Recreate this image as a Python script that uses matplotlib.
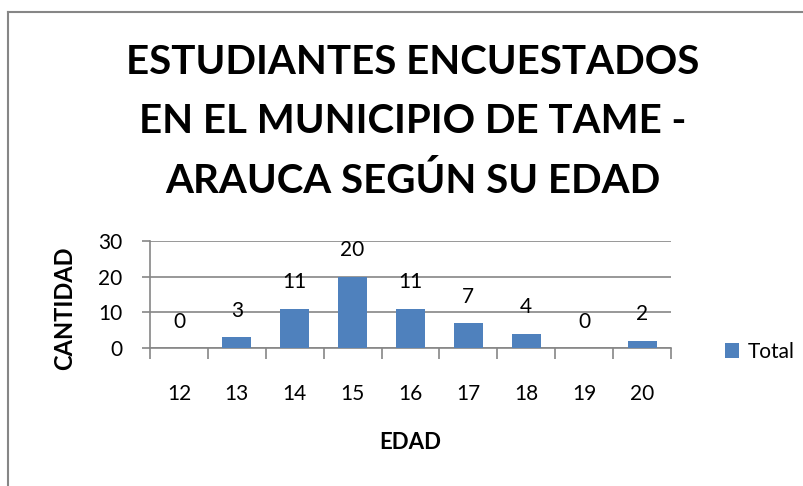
import matplotlib.pyplot as plt
import numpy as np

edades = ['12', '13', '14', '15', '16', '17', '18', '19', '20']
cantidad = [0, 3, 11, 20, 11, 7, 4, 0, 2]
y_ticks = [0, 10, 20, 30]

titulo = 'ESTUDIANTES ENCUESTADOS\nEN EL MUNICIPIO DE TAME -\nARAUCA SEGÚN SU EDAD'

plt.rcParams['font.family'] = ['Lato', 'DejaVu Sans']
gris = '#868686'
azul = '#4F81BD'

fig = plt.figure(figsize=(8.04, 4.86), dpi=100)

# borde del grafico (solo se ven izquierda y arriba)
fig.add_artist(plt.Line2D([0.0105, 0.0105], [0, 1 - 12 / 486], color=gris, lw=1.5,
                          transform=fig.transFigure))
fig.add_artist(plt.Line2D([0.0105, 1], [1 - 12 / 486, 1 - 12 / 486], color=gris, lw=1.5,
                          transform=fig.transFigure))

ax = fig.add_axes([150 / 804, 1 - 348 / 486, 521 / 804, 107 / 486])
x = np.arange(len(edades))
bars = ax.bar(x, cantidad, width=0.5, color=azul, label='Total', zorder=3)

for xi, v in zip(x, cantidad):
    ax.annotate(str(v), (xi, v), xytext=(0, 19), textcoords='offset points',
                ha='center', va='center', fontsize=15, zorder=4)

ax.set_xlim(-0.5, len(edades) - 0.5)
ax.set_ylim(0, 30)
ax.set_yticks(y_ticks)
ax.yaxis.grid(True, color=gris, lw=1.2, zorder=1)
ax.set_xticks(np.arange(len(edades) + 1) - 0.5)
ax.set_xticklabels([])
ax.set_xticks(x, minor=True)
ax.set_xticklabels(edades, minor=True)
ax.tick_params(axis='x', which='major', length=8, color=gris, width=1.2)
ax.tick_params(axis='x', which='minor', length=0, pad=26, labelsize=15)
ax.tick_params(axis='y', length=6, color=gris, width=1.2, labelsize=15, pad=14)
for s in ['top', 'right']:
    ax.spines[s].set_visible(False)
ax.spines['left'].set_color(gris)
ax.spines['bottom'].set_color(gris)
ax.spines['left'].set_linewidth(1.2)
ax.spines['bottom'].set_linewidth(1.2)

ax.set_xlabel('EDAD', fontsize=16, fontweight='bold', va='center', ha='center')
ax.xaxis.set_label_coords(0.5, (348 - 442.5) / 107)
ax.set_ylabel('CANTIDAD', fontsize=17, fontweight='bold', va='center', ha='center')
ax.yaxis.set_label_coords((64.5 - 150) / 521, (348 - 308) / 107)

fig.text(0.513, 1 - 122 / 486, titulo, ha='center', va='center', fontsize=29,
         fontweight='bold', linespacing=1.71)

fig.legend(handles=[bars], labels=['Total'], loc='center left',
           bbox_to_anchor=(706 / 804, 1 - 352 / 486), frameon=False,
           fontsize=15, handlelength=0.7, handleheight=0.7, handletextpad=0.4)

fig.savefig('out.png', dpi=100, facecolor='white')
